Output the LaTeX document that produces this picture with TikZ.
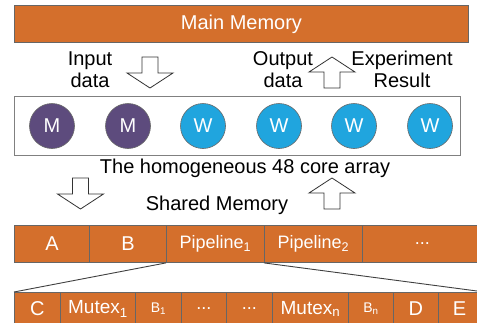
\documentclass[tikz,border=0pt]{standalone}
\usepackage{fontspec}
\setmainfont{Liberation Sans}
\definecolor{memorange}{HTML}{D46F2C}
\definecolor{mpurple}{HTML}{5D4B7D}
\definecolor{wblue}{HTML}{20A5DE}
\definecolor{edgegray}{HTML}{666666}
\newcommand{\fs}[1]{\fontsize{#1}{#1}\selectfont}
\newcommand{\blkdown}[3]{% name, center x, top y
  \draw[blkarrow] (#2-8,-#3) -- (#2+8,-#3) -- (#2+8,-#3-16) -- (#2+23,-#3-16)
     -- (#2,-#3-31) -- (#2-23,-#3-16) -- (#2-8,-#3-16) -- cycle;
  \coordinate (#1) at (#2,-#3);}
\newcommand{\blkup}[3]{% name, center x, top y (tip)
  \draw[blkarrow] (#2,-#3) -- (#2+23,-#3-15) -- (#2+8,-#3-15) -- (#2+8,-#3-31)
     -- (#2-8,-#3-31) -- (#2-8,-#3-15) -- (#2-23,-#3-15) -- cycle;
  \coordinate (#1) at (#2,-#3);}
\begin{document}
\begin{tikzpicture}[x=1pt,y=1pt,
  bar/.style={draw=edgegray, line width=0.9pt, fill=memorange, text=white,
    inner sep=0pt, anchor=north west, minimum height=37pt},
  lowbar/.style={bar, minimum height=33pt},
  core/.style={circle, draw=edgegray, line width=0.6pt, text=white,
    minimum size=45pt, inner sep=0pt, font=\fs{20}},
  lbl/.style={align=center, font=\fs{20}, inner sep=0pt},
  blkarrow/.style={draw=black!80, line width=0.8pt, fill=white, line join=miter},
  zoomline/.style={draw=black!75, line width=0.9pt}]
\useasboundingbox (0,0) rectangle (477,-322);

% Main memory
\node[bar, minimum width=454pt, font=\fs{20}] (mm) at (14,-5) {Main Memory};

% labels and arrows between main memory and core array
\node[lbl] (inlbl) at (90,-69.5) {Input\\[2pt]data};
\blkdown{inarr}{150}{57}
\node[lbl] (outlbl) at (283,-69.5) {Output\\[2pt]data};
\blkup{outarr}{332}{57}
\node[lbl] (exlbl) at (402,-69.5) {Experiment\\[2pt]Result};

% core array
\node[draw=black!50, line width=1pt, minimum width=446pt, minimum height=59pt,
  inner sep=0pt, anchor=north west] (arr) at (14,-96) {};
\node[core, fill=mpurple] (c1) at (52,-126) {M};
\node[core, fill=mpurple] (c2) at (128,-126) {M};
\node[core, fill=wblue] (c3) at (203,-126) {W};
\node[core, fill=wblue] (c4) at (279,-126) {W};
\node[core, fill=wblue] (c5) at (354,-126) {W};
\node[core, fill=wblue] (c6) at (430,-126) {W};
\node[lbl] (arrlbl) at (245,-168) {The homogeneous 48 core array};

% shared memory
\blkdown{smdown}{80.5}{178}
\node[lbl] (smlbl) at (217,-205) {Shared Memory};
\blkup{smup}{332}{178}

% pipeline bar
\node[bar, minimum width=75pt, font=\fs{20}] (a) at (14,-225) {A};
\node[bar, minimum width=77pt, font=\fs{20}] (b) at (89,-225) {B};
\node[bar, minimum width=98pt, font=\fs{18}] (p1) at (166,-225) {Pipeline\textsubscript{1}};
\node[bar, minimum width=98pt, font=\fs{18}] (p2) at (264,-225) {Pipeline\textsubscript{2}};
\node[bar, minimum width=120pt, font=\fs{18}] (pd) at (362,-225) {...};

% detailed bar
\node[lowbar, minimum width=46pt, font=\fs{20}] (cc) at (14,-292) {C};
\node[lowbar, minimum width=75pt, font=\fs{19}] (m1) at (60,-292) {Mutex\textsubscript{1}};
\node[lowbar, minimum width=46pt, font=\fs{14}] (b1) at (135,-292) {B\textsubscript{1}};
\node[lowbar, minimum width=45pt, font=\fs{18}] (d1) at (181,-292) {...};
\node[lowbar, minimum width=46pt, font=\fs{18}] (d2) at (226,-292) {...};
\node[lowbar, minimum width=76pt, font=\fs{19}] (mn) at (272,-292) {Mutex\textsubscript{n}};
\node[lowbar, minimum width=45pt, font=\fs{14}] (bn) at (348,-292) {B\textsubscript{n}};
\node[lowbar, minimum width=45pt, font=\fs{20}] (dd) at (393,-292) {D};
\node[lowbar, minimum width=42pt, font=\fs{20}] (ee) at (438,-292) {E};

% zoom lines
\coordinate (zr) at (477,-291);
\draw[zoomline] (p1.south west) -- (cc.north west);
\draw[zoomline] (p2.south west) -- (zr);
\end{tikzpicture}
\end{document}
